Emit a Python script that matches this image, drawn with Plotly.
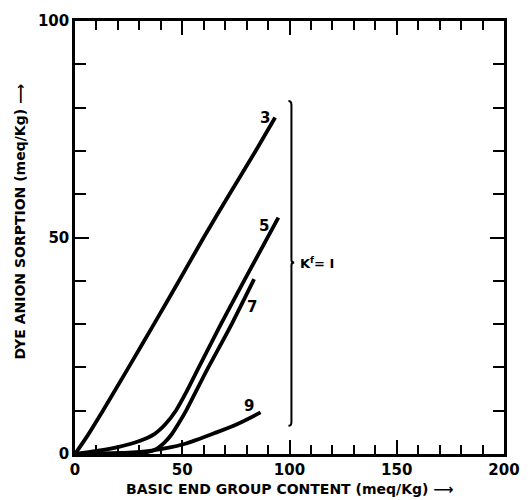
import plotly.graph_objects as go

# Data
x3 = [0, 5, 13, 25, 36.8, 48.5, 60, 72, 84.2, 93.3]
y3 = [0, 3.6, 10, 20, 30, 40, 50, 60, 70, 77.7]
x5 = [0, 10, 20, 30, 37, 42, 47, 52, 57, 67.6, 78.6, 94.8]
y5 = [0, 0.7, 1.6, 3.0, 4.6, 6.8, 10.0, 14.4, 19.3, 29.6, 39.8, 54.6]
x7 = [0, 20, 34, 38, 41.8, 45, 48, 52, 61.3, 72, 83.5]
y7 = [0, 0.2, 0.5, 1.2, 2.7, 4.5, 6.8, 10.2, 19.2, 29, 40.4]
x9 = [0, 20, 35.7, 50.9, 66, 76, 86.5]
y9 = [0, 0.2, 0.8, 2.3, 5, 7, 9.6]

curve_names = ["3", "5", "7", "9"]
label_x = [88.6, 88, 82.7, 81.2]
label_y = [77.6, 52.7, 33.9, 11.1]

brace_x = 100.9
brace_top = 81.5
brace_mid = 44.2
brace_bottom = 6.5
brace_label = "K<sup>f</sup>= I"
brace_label_x = 104

x_ticks = [0, 50, 100, 150, 200]
y_ticks = [0, 50, 100]

FONT = "DejaVu Sans"
fig = go.Figure()
for xs, ys in [(x3, y3), (x5, y5), (x7, y7), (x9, y9)]:
    fig.add_trace(go.Scatter(x=xs, y=ys, mode="lines",
                             line=dict(color="black", width=3.8, shape="spline", smoothing=0.7),
                             showlegend=False, hoverinfo="skip"))

for name, lx, ly in zip(curve_names, label_x, label_y):
    fig.add_annotation(x=lx, y=ly, text="<b>%s</b>" % name, showarrow=False,
                       font=dict(family=FONT, size=15, color="black"))

# curly brace
hx, hy = 1.4, 0.9
tx, ty = 1.3, 0.6
path = (f"M {brace_x - hx},{brace_top} Q {brace_x},{brace_top} {brace_x},{brace_top - hy} "
        f"L {brace_x},{brace_mid + ty} Q {brace_x},{brace_mid} {brace_x + tx},{brace_mid} "
        f"Q {brace_x},{brace_mid} {brace_x},{brace_mid - ty} "
        f"L {brace_x},{brace_bottom + hy} Q {brace_x},{brace_bottom} {brace_x - hx},{brace_bottom}")
fig.add_shape(type="path", path=path, xref="x", yref="y", line=dict(color="black", width=2))
fig.add_annotation(x=brace_label_x, y=brace_mid, text="<b>%s</b>" % brace_label, showarrow=False,
                   xanchor="left", yanchor="middle", font=dict(family=FONT, size=13, color="black"))

axis_common = dict(showgrid=False, zeroline=False, showline=True, linecolor="black", linewidth=2.5,
                   mirror="ticks", ticks="inside", ticklen=14, tickwidth=2, tickcolor="black",
                   tickfont=dict(family=FONT, size=15, color="black", weight="bold"))
fig.update_xaxes(range=[0, 200], tickvals=x_ticks, ticktext=[str(v) for v in x_ticks],
                 minor=dict(dtick=10, ticks="inside", ticklen=9, tickwidth=2, tickcolor="black"),
                 **axis_common)
fig.update_yaxes(range=[0, 100], tickvals=y_ticks, ticktext=[str(v) for v in y_ticks],
                 minor=dict(dtick=10, ticks="inside", ticklen=11, tickwidth=2, tickcolor="black"),
                 **axis_common)

fig.add_annotation(xref="paper", yref="paper", x=0.5, y=0, yshift=-35, xshift=0,
                   xanchor="center", yanchor="middle",
                   text="<b>BASIC END GROUP CONTENT (meq/Kg) \u27f6</b>", showarrow=False,
                   font=dict(family=FONT, size=14, color="black"))
fig.add_annotation(xref="paper", yref="paper", x=0, y=0.5, xshift=-56, yshift=16, textangle=-90,
                   xanchor="center", yanchor="middle",
                   text="<b>DYE ANION SORPTION (meq/Kg) \u27f6</b>", showarrow=False,
                   font=dict(family=FONT, size=14, color="black"))

fig.update_layout(width=532, height=500, margin=dict(l=75, r=18, t=20, b=46),
                  plot_bgcolor="white", paper_bgcolor="white")
fig.write_html("out.html")
